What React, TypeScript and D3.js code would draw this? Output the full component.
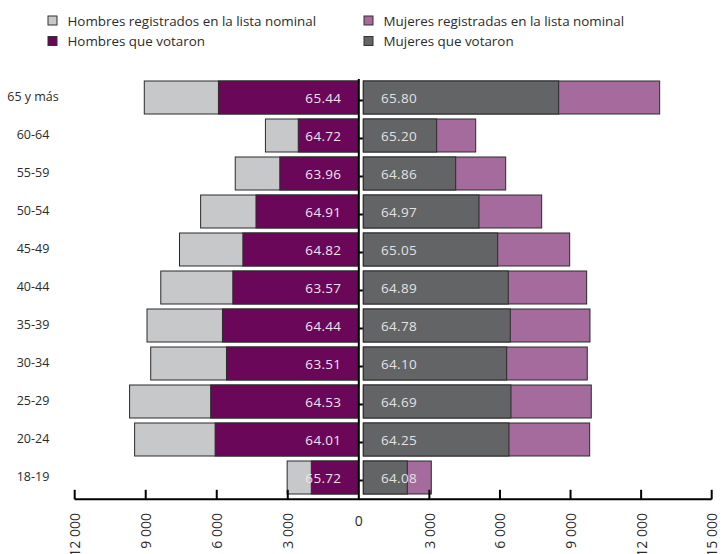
import React from "react";
import * as d3 from "d3";

const categories = ["65 y más", "60-64", "55-59", "50-54", "45-49", "40-44", "35-39", "30-34", "25-29", "20-24", "18-19"];
const menRegistered = [9061, 3944, 5219, 6681, 7573, 8364, 8946, 8789, 9681, 9469, 3026];
const menVoted = [5929, 2558, 3336, 4343, 4896, 5321, 5759, 5589, 6256, 6069, 2006];
const menPct = ["65.44", "64.72", "63.96", "64.91", "64.82", "63.57", "64.44", "63.51", "64.53", "64.01", "65.72"];
const womenRegistered = [12597, 4777, 6052, 7582, 8772, 9494, 9635, 9520, 9690, 9622, 2890];
const womenVoted = [8304, 3119, 3927, 4917, 5712, 6162, 6247, 6094, 6277, 6192, 1870];
const womenPct = ["65.80", "65.20", "64.86", "64.97", "65.05", "64.89", "64.78", "64.10", "64.69", "64.25", "64.08"];
const leftTicks = [12000, 9000, 6000, 3000];
const rightTicks = [3000, 6000, 9000, 12000, 15000];
const legendItems = [
  { label: "Hombres registrados en la lista nominal", color: "#c7c8ca" },
  { label: "Hombres que votaron", color: "#6b0758" },
  { label: "Mujeres registradas en la lista nominal", color: "#a66b9d" },
  { label: "Mujeres que votaron", color: "#636466" },
];

const W = 723;
const H = 554;
const FONT = "'Open Sans', 'Noto Sans', sans-serif";
const fmt = (v: number) => {
  const s = String(v);
  return s.length > 3 ? s.slice(0, s.length - 3) + " " + s.slice(-3) : s;
};

export default function App() {
  const cx = 358.8;
  const axisY = 499.3;
  const xL = d3.scaleLinear().domain([0, 12000]).range([cx, 74.7]);
  const xR = d3.scaleLinear().domain([0, 15000]).range([cx, 711.7]);
  const y = d3
    .scaleBand<string>()
    .domain(categories)
    .range([78.5, 496.5])
    .paddingInner(5 / 38)
    .paddingOuter(2.5 / 38);
  const bw = y.bandwidth();
  const gapR = 4.5;
  const stroke = "#2a2a2a";

  return (
    <svg
      width={W}
      height={H}
      style={{ position: "absolute", left: 0, top: 0, background: "#fff" }}
      fontFamily={FONT}
    >
      {/* legend */}
      {legendItems.map((it, i) => {
        const col = i < 2 ? 0 : 1;
        const row = i % 2;
        const sx = col === 0 ? 48 : 364;
        const sy = row === 0 ? 20.5 : 41;
        return (
          <g key={it.label}>
            <rect x={sx} y={sy - 4.5} width={9} height={9} fill={it.color} stroke="#333" strokeWidth={1} />
            <text x={sx + 19.5} y={sy} dominantBaseline="central" fontSize={13.4} fill="#2b2b2b">
              {it.label}
            </text>
          </g>
        );
      })}

      {/* category labels */}
      {categories.map((c) => (
        <text
          key={c}
          x={33}
          y={(y(c) as number) + bw / 2 - 1.5}
          textAnchor="middle"
          dominantBaseline="central"
          fontSize={12.5}
          fill="#2b2b2b"
        >
          {c}
        </text>
      ))}

      {/* men bars */}
      {categories.map((c, i) => (
        <g key={"m" + c}>
          <rect
            x={xL(menRegistered[i])}
            y={y(c)}
            width={xL(0) - xL(menRegistered[i]) - 0.5}
            height={bw}
            fill="#c7c8ca"
            stroke={stroke}
            strokeWidth={1}
          />
          <rect
            x={xL(menVoted[i])}
            y={y(c)}
            width={xL(0) - xL(menVoted[i]) - 0.5}
            height={bw}
            fill="#6b0758"
            stroke={stroke}
            strokeWidth={1}
          />
          <text
            x={xL(0) - 17.5}
            y={(y(c) as number) + bw / 2}
            textAnchor="end"
            dominantBaseline="central"
            fontSize={13.5}
            letterSpacing={0.3}
            fill="#f1e2ee"
          >
            {menPct[i]}
          </text>
        </g>
      ))}

      {/* women bars */}
      {categories.map((c, i) => (
        <g key={"w" + c}>
          <rect
            x={xR(0) + gapR}
            y={y(c)}
            width={xR(womenRegistered[i]) - xR(0)}
            height={bw}
            fill="#a66b9d"
            stroke={stroke}
            strokeWidth={1}
          />
          <rect
            x={xR(0) + gapR}
            y={y(c)}
            width={xR(womenVoted[i]) - xR(0)}
            height={bw}
            fill="#636466"
            stroke={stroke}
            strokeWidth={1}
          />
          <text
            x={xR(0) + gapR + 17.7}
            y={(y(c) as number) + bw / 2}
            textAnchor="start"
            dominantBaseline="central"
            fontSize={13.5}
            letterSpacing={0.3}
            fill="#e2e2e2"
          >
            {womenPct[i]}
          </text>
        </g>
      ))}

      {/* center vertical axis with category ticks */}
      <line x1={cx} x2={cx} y1={79} y2={axisY} stroke="#000" strokeWidth={2} />
      {categories.map((c) => (
        <line
          key={"t" + c}
          x1={cx}
          x2={cx + 4}
          y1={(y(c) as number) + bw / 2 + 3}
          y2={(y(c) as number) + bw / 2 + 3}
          stroke="#000"
          strokeWidth={2}
        />
      ))}

      {/* bottom axis */}
      <line x1={xL(12000)} x2={xR(15000)} y1={axisY} y2={axisY} stroke="#000" strokeWidth={2} />
      {leftTicks.map((t) => (
        <g key={"lt" + t}>
          <line x1={xL(t)} x2={xL(t)} y1={axisY} y2={axisY - 9.5} stroke="#000" strokeWidth={2} />
          <text
            transform={`translate(${xL(t)},${513}) rotate(-90)`}
            textAnchor="end"
            dominantBaseline="central"
            fontSize={14}
            fill="#2b2b2b"
          >
            {fmt(t)}
          </text>
        </g>
      ))}
      {rightTicks.map((t) => (
        <g key={"rt" + t}>
          <line x1={xR(t)} x2={xR(t)} y1={axisY} y2={axisY - 9.5} stroke="#000" strokeWidth={2} />
          <text
            transform={`translate(${xR(t)},${513}) rotate(-90)`}
            textAnchor="end"
            dominantBaseline="central"
            fontSize={14}
            fill="#2b2b2b"
          >
            {fmt(t)}
          </text>
        </g>
      ))}
      <text x={cx} y={520} textAnchor="middle" dominantBaseline="central" fontSize={14} fill="#2b2b2b">
        0
      </text>
    </svg>
  );
}
